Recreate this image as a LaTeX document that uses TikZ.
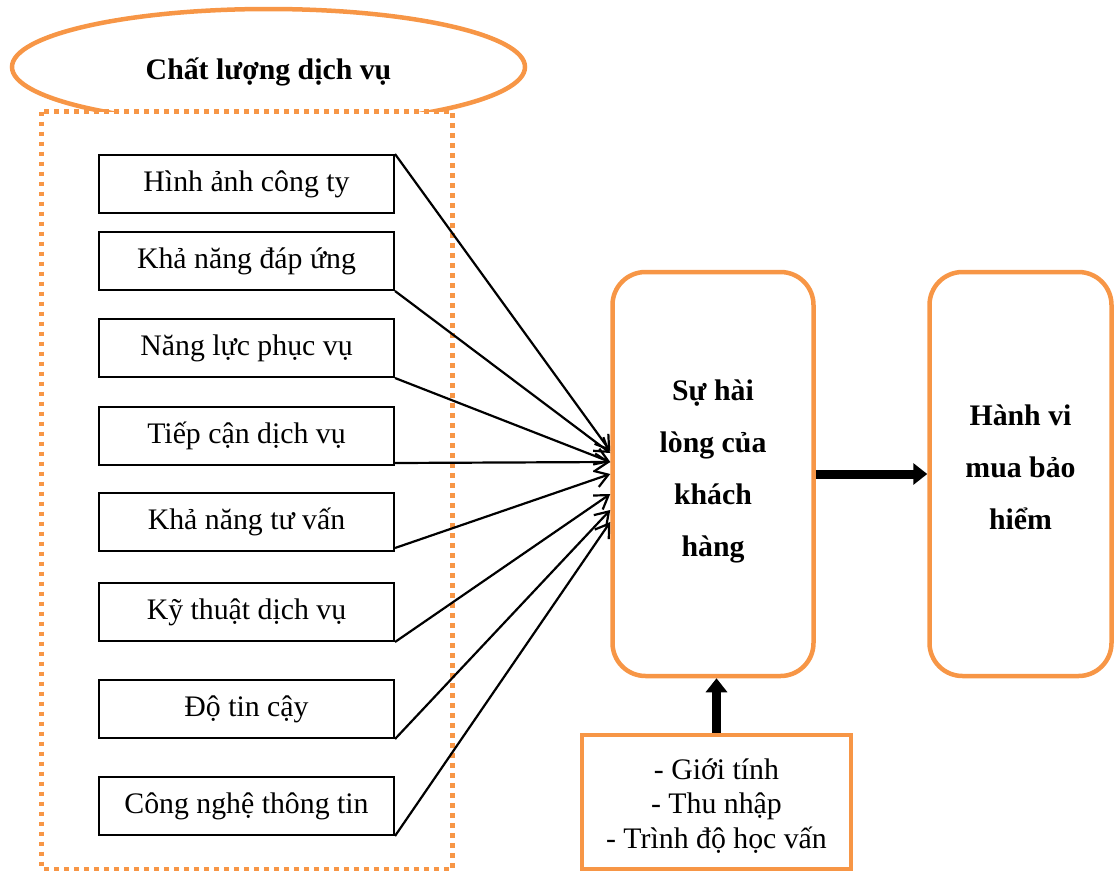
\documentclass[tikz,border=0pt]{standalone}
\usepackage{fontspec}
\setmainfont{Liberation Serif}
\usetikzlibrary{arrows.meta,shapes.geometric}

\definecolor{accent}{HTML}{F79646}

\begin{document}
\begin{tikzpicture}[x=1pt,y=-1pt,
  factor/.style={draw=black, line width=2pt, minimum width=295pt, minimum height=58pt,
    inner sep=0pt, font=\fontsize{29.8}{34.5}\selectfont},
  stage/.style={draw=accent, line width=4.5pt, rounded corners=33pt, minimum width=201pt,
    minimum height=404pt, inner sep=0pt},
  stagetext/.style={align=center, inner sep=0pt, font=\fontsize{29.8}{52}\selectfont\bfseries},
  link/.style={line width=2.2pt, -{Straight Barb[length=13pt,width=17pt]}},
  bold arrow/.style={line width=9pt, -{Triangle[length=14pt,width=21pt]}}
]
\useasboundingbox (0,0) rectangle (1114,873);

% heading ellipse and dotted group frame
\node[ellipse, draw=accent, line width=4.5pt, minimum width=513pt, minimum height=116pt,
  inner sep=0pt] (title) at (268.5,67) {};
\node[font=\fontsize{29.8}{34.5}\selectfont\bfseries, inner sep=0pt] (titletext)
  at (268.5,72) {Chất lượng dịch vụ};
\draw[accent, line width=4.5pt, dash pattern=on 4.5pt off 5.5pt, fill=white]
  (41.5,111.5) rectangle (452.5,869);

% quality factors
\node[factor] (f1) at (246.5,184) {Hình ảnh công ty};
\node[factor] (f2) at (246.5,261) {Khả năng đáp ứng};
\node[factor] (f3) at (246.5,348) {Năng lực phục vụ};
\node[factor] (f4) at (246.5,436) {Tiếp cận dịch vụ};
\node[factor] (f5) at (246.5,522) {Khả năng tư vấn};
\node[factor] (f6) at (246.5,612) {Kỹ thuật dịch vụ};
\node[factor] (f7) at (246.5,709) {Độ tin cậy};
\node[factor] (f8) at (246.5,806) {Công nghệ thông tin};

% satisfaction and behaviour
\node[stage] (sat) at (713,474) {};
\node[stagetext] (sattext) at (713,471) {Sự hài\\lòng của\\khách\\hàng};
\node[stage, minimum width=182pt] (buy) at (1020.5,474) {};
\node[stagetext] (buytext) at (1020.5,467) {Hành vi\\mua bảo\\hiểm};

% demographic controls
\node[draw=accent, line width=4.5pt, minimum width=269pt, minimum height=134pt, inner sep=0pt,
  align=center, font=\fontsize{29.8}{34.5}\selectfont] (demo) at (716.5,802) {};
\node[align=center, inner sep=0pt, font=\fontsize{29.8}{34.5}\selectfont] (demotext)
  at (716.5,806) {- Giới tính\\- Thu nhập\\- Trình độ học vấn};

% factor links
\draw[link] (f1.north east) -- ([yshift=23pt]sat.west);
\draw[link] (f2.south east) -- ([yshift=21pt]sat.west);
\draw[link] (f3.south east) -- ([yshift=12pt]sat.west);
\draw[link] ([yshift=3pt]f4.south east) -- ([yshift=12pt]sat.west);
\draw[link] ([yshift=4pt]f5.south east) -- ([yshift=0pt]sat.west);
\draw[link] (f6.south east) -- ([yshift=-20pt]sat.west);
\draw[link] (f7.south east) -- ([yshift=-36pt]sat.west);
\draw[link] (f8.south east) -- ([yshift=-48pt]sat.west);

% main flow
\draw[bold arrow] (sat.east) -- (buy.west);
\draw[bold arrow] (demo.north) -- (demo.north |- sat.south);
\end{tikzpicture}
\end{document}
